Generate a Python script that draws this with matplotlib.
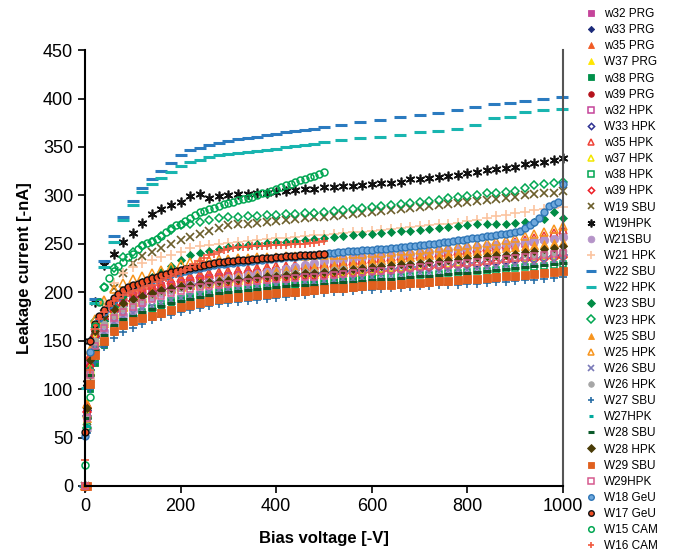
import matplotlib
matplotlib.use("Agg")
import matplotlib.pyplot as plt

plt.rcParams['font.family'] = ['Liberation Sans', 'DejaVu Sans']

# voltage grids (V)
V_FULL = [0, 5, 10] + list(range(20, 1001, 20))
V_PRG = [0, 5, 10] + list(range(20, 601, 20))
V_FINE = list(range(0, 501, 10))
V_GEU = list(range(0, 1001, 10))
V_W22_SBU = list(range(0, 501, 20)) + [535, 575, 617, 659, 700, 738, 778, 816, 855, 889, 920, 958, 998]
V_W22_HPK = [5] + list(range(20, 501, 20)) + [535, 575, 617, 659, 700, 738, 778, 816, 855, 889, 920, 958, 998]

# leakage current (-nA)
w32_prg = [0, 80, 130,
           160, 176, 186, 192, 197, 201, 204, 207, 209, 211,
           213, 215, 216, 217, 218, 219, 220, 221, 222, 222,
           223, 224, 224, 225, 225, 226, 226, 227, 227, 228]
w33_prg = [0, 78, 125,
           155, 172, 182, 188, 193, 197, 200, 203, 205, 207,
           209, 211, 212, 213, 214, 215, 216, 217, 218, 218,
           219, 220, 220, 221, 221, 222, 222, 223, 223, 224]
w35_prg = [0, 85, 135,
           165, 180, 190, 196, 200, 204, 207, 210, 212, 214,
           216, 218, 219, 220, 221, 222, 223, 224, 225, 225,
           226, 227, 227, 228, 228, 229, 229, 230, 230, 231]
w37_prg = [0, 75, 120,
           152, 170, 180, 186, 191, 195, 198, 201, 203, 205,
           207, 209, 210, 211, 212, 213, 214, 215, 216, 217,
           217, 218, 219, 219, 220, 220, 221, 221, 222, 222]
w38_prg = [0, 60, 100,
           127, 146, 160, 168, 174, 178, 182, 186, 190, 192,
           194, 196, 197, 199, 200, 201, 202, 203, 204, 205,
           206, 207, 208, 209, 210, 211, 212, 213, 214, 215]
w39_prg = [0, 80, 128,
           158, 174, 184, 190, 194, 198, 201, 204, 206, 208,
           210, 211, 212, 213, 214, 215, 216, 217, 218, 218,
           219, 220, 220, 221, 222, 222, 223, 223, 224, 225]

w32_hpk = [0, 75, 125,
           158, 175, 185, 191, 196, 200, 203, 206, 208, 210,
           212, 214, 215, 216, 217, 218, 219, 220, 221, 222,
           223, 224, 225, 225, 226, 227, 228, 229, 230, 231,
           232, 233, 234, 235, 236, 237, 238, 239, 240, 241,
           242, 244, 245, 247, 248, 250, 252, 255, 258, 262]
w33_hpk = [0, 72, 120,
           153, 170, 180, 186, 191, 195, 198, 201, 203, 205,
           207, 209, 210, 211, 212, 213, 214, 215, 216, 217,
           218, 218, 219, 219, 220, 221, 221, 222, 222, 223,
           224, 224, 225, 226, 226, 227, 228, 228, 229, 230,
           230, 231, 232, 233, 234, 235, 235, 236, 237, 238]
w35_hpk = [0, 85, 135,
           165, 181, 191, 197, 201, 205, 208, 211, 213, 215,
           217, 219, 220, 221, 222, 223, 224, 225, 226, 227,
           227, 228, 228, 229, 229, 230, 231, 232, 233, 234,
           235, 236, 237, 238, 239, 240, 241, 242, 243, 244,
           246, 247, 249, 250, 252, 254, 256, 258, 261, 264]
w37_hpk = [0, 74, 122,
           154, 171, 181, 187, 192, 196, 199, 202, 204, 206,
           208, 210, 211, 212, 213, 214, 215, 216, 217, 218,
           218, 219, 220, 220, 221, 222, 222, 223, 224, 224,
           225, 226, 226, 227, 228, 228, 229, 230, 231, 231,
           232, 233, 234, 235, 236, 236, 237, 238, 239, 240]
w38_hpk = [0, 62, 105,
           130, 149, 162, 170, 176, 180, 184, 188, 191, 193,
           195, 197, 198, 200, 201, 202, 203, 204, 205, 206,
           207, 208, 209, 210, 211, 212, 212, 213, 214, 214,
           215, 216, 216, 217, 218, 218, 219, 220, 220, 221,
           222, 222, 223, 224, 225, 226, 226, 227, 228, 229]
w39_hpk = [0, 76, 124,
           155, 172, 181, 187, 191, 195, 198, 201, 203, 205,
           207, 208, 209, 210, 211, 212, 213, 214, 215, 215,
           216, 216, 217, 217, 218, 219, 219, 220, 220, 221,
           222, 222, 223, 224, 224, 225, 226, 226, 227, 228,
           228, 229, 230, 231, 232, 233, 233, 234, 235, 236]

w19_sbu = [0, 60, 110,
           160, 185, 204, 220, 230, 237, 242, 246, 250, 254,
           257, 260, 263, 266, 269, 270, 271, 272, 273, 274,
           275, 276, 277, 278, 278, 279, 280, 281, 282, 283,
           284, 285, 286, 287, 288, 289, 290, 291, 292, 293,
           294, 295, 296, 297, 298, 300, 301, 302, 303, 305]
w19_hpk = [0, 106, 150,
           190, 228, 240, 252, 261, 272, 281, 286, 290, 293,
           299, 301, 297, 299, 300, 301, 301, 302, 303, 304,
           305, 306, 307, 307, 309, 309, 310, 310, 311, 312,
           313, 313, 314, 317, 317, 318, 319, 320, 321, 323,
           324, 326, 327, 328, 329, 332, 333, 335, 337, 339]
w21_sbu = [0, 60, 110,
           140, 160, 170, 177, 182, 189, 195, 199, 202, 205,
           207, 209, 211, 213, 215, 216, 218, 219, 221, 222,
           224, 226, 228, 230, 232, 233, 234, 235, 236, 237,
           238, 239, 239, 240, 241, 242, 243, 244, 245, 246,
           247, 248, 249, 250, 251, 252, 253, 254, 255, 257]
w21_hpk = [0, 60, 110,
           150, 190, 210, 220, 226, 230, 233, 236, 239, 242,
           246, 248, 249, 250, 251, 252, 253, 254, 255, 256,
           256, 257, 258, 259, 259, 260, 261, 262, 262, 263,
           264, 265, 266, 267, 268, 269, 270, 271, 272, 274,
           275, 277, 279, 280, 282, 283, 285, 286, 287, 288]
w22_sbu = [0, 193, 232, 258, 278, 294, 308, 317, 325, 333,
           342, 347, 349, 352, 354, 356, 358, 359, 360, 362,
           363, 365, 366, 368, 369, 371,
           373, 376, 378, 381, 383, 385, 388, 391, 394, 395, 398, 400, 402]
w22_hpk = [101, 189, 226, 252, 275, 290, 304, 312, 318, 324,
           330, 335, 337, 340, 342, 343, 344, 345, 346, 347,
           348, 350, 351, 352, 353, 355,
           357, 359, 360, 362, 365, 367, 369, 373, 380, 381, 386, 388, 389]
w23_sbu = [0, 70, 115,
           145, 170, 185, 196, 205, 211, 216, 221, 227, 233,
           239, 241, 243, 245, 247, 248, 249, 250, 251, 252,
           252, 253, 254, 255, 256, 257, 258, 259, 260, 260,
           261, 262, 263, 263, 264, 265, 266, 267, 268, 269,
           270, 270, 271, 271, 272, 273, 273, 276, 283, 277]
w23_hpk = [0, 60, 120,
           170, 205, 225, 236, 242, 248, 252, 258, 264, 269,
           271, 273, 275, 277, 278, 278, 279, 279, 280, 280,
           281, 281, 282, 282, 283, 284, 285, 286, 287, 288,
           289, 290, 291, 292, 293, 294, 295, 297, 298, 299,
           300, 302, 303, 304, 305, 308, 311, 312, 313, 314]
w25_sbu = [0, 70, 118,
           150, 168, 178, 185, 190, 194, 198, 201, 204, 206,
           208, 210, 212, 214, 215, 217, 218, 219, 220, 222,
           223, 224, 225, 226, 227, 228, 229, 230, 231, 232,
           233, 234, 235, 236, 237, 238, 239, 240, 241, 242,
           243, 244, 245, 246, 247, 248, 249, 250, 251, 252]
w25_hpk = [0, 85, 140,
           172, 192, 203, 210, 214, 217, 220, 223, 226, 229,
           231, 232, 233, 234, 234, 235, 235, 236, 236, 236,
           237, 237, 237, 238, 238, 239, 239, 240, 240, 241,
           241, 242, 243, 243, 244, 245, 246, 247, 248, 249,
           250, 251, 253, 254, 256, 258, 260, 262, 265, 268]
w26_sbu = [0, 72, 118,
           143, 159, 169, 175, 179, 183, 186, 189, 192, 194,
           196, 198, 200, 202, 203, 204, 205, 206, 207, 208,
           209, 210, 211, 211, 212, 213, 214, 214, 215, 216,
           217, 217, 218, 219, 220, 220, 221, 222, 223, 223,
           224, 225, 226, 227, 228, 229, 230, 231, 232, 233]
w26_hpk = [0, 70, 118,
           150, 167, 177, 184, 189, 193, 197, 200, 202, 204,
           206, 208, 210, 211, 213, 214, 215, 216, 217, 218,
           219, 220, 221, 221, 222, 223, 224, 224, 225, 226,
           227, 227, 228, 229, 230, 231, 231, 232, 233, 234,
           235, 236, 237, 238, 239, 240, 240, 241, 242, 243]
w27_sbu = [0, 55, 100,
           128, 143, 153, 159, 163, 167, 171, 174, 177, 180,
           182, 184, 186, 188, 189, 190, 191, 192, 193, 194,
           195, 196, 197, 198, 199, 200, 200, 201, 202, 202,
           203, 204, 204, 205, 206, 206, 207, 207, 208, 209,
           209, 210, 211, 211, 212, 213, 213, 214, 215, 216]
w27_hpk = [0, 62, 108,
           133, 148, 157, 163, 167, 171, 174, 177, 180, 183,
           185, 187, 189, 191, 192, 193, 194, 195, 196, 197,
           198, 199, 200, 201, 202, 203, 203, 204, 205, 205,
           206, 207, 207, 208, 209, 209, 210, 211, 211, 212,
           213, 213, 214, 215, 216, 216, 217, 218, 219, 220]
w28_sbu = [0, 70, 115,
           140, 156, 166, 172, 176, 180, 183, 186, 189, 191,
           193, 195, 197, 199, 200, 201, 202, 203, 204, 205,
           206, 207, 208, 208, 209, 210, 211, 211, 212, 213,
           214, 214, 215, 216, 217, 217, 218, 219, 220, 220,
           221, 222, 223, 224, 225, 226, 227, 228, 229, 230]
w28_hpk = [0, 80, 130,
           160, 175, 183, 189, 193, 196, 199, 202, 204, 206,
           208, 210, 211, 212, 213, 214, 215, 216, 217, 217,
           218, 219, 220, 220, 221, 222, 223, 224, 225, 226,
           227, 228, 229, 229, 230, 231, 232, 233, 234, 235,
           236, 237, 238, 239, 240, 242, 243, 245, 246, 248]
w29_sbu = [0, 0, 105,
           135, 150, 160, 166, 170, 173, 176, 179, 182, 185,
           187, 189, 191, 193, 194, 195, 196, 197, 198, 199,
           200, 200, 201, 202, 203, 204, 204, 205, 206, 207,
           207, 208, 209, 210, 210, 211, 212, 212, 213, 214,
           214, 215, 216, 217, 217, 218, 219, 220, 221, 222]
w29_hpk = [0, 70, 115,
           145, 163, 173, 180, 185, 189, 193, 196, 199, 201,
           203, 205, 206, 208, 209, 210, 211, 212, 213, 214,
           214, 215, 216, 216, 217, 218, 219, 220, 221, 222,
           222, 223, 224, 225, 226, 227, 228, 228, 229, 230,
           231, 232, 233, 234, 235, 236, 237, 238, 240, 241]
w18_geu = [52, 138, 165, 173, 180, 187, 192, 196, 200, 203,
           205, 207, 209, 211, 213, 214, 216, 217, 219, 220,
           221, 222, 223, 224, 225, 226, 227, 228, 229, 229,
           230, 230, 231, 231, 232, 232, 233, 233, 234, 234,
           235, 235, 236, 236, 236, 237, 237, 238, 238, 239,
           240, 241, 241, 242, 242, 243, 243, 243, 244, 244,
           244, 245, 245, 245, 246, 246, 247, 247, 248, 248,
           249, 249, 250, 250, 251, 252, 252, 253, 254, 254,
           255, 256, 256, 257, 258, 258, 259, 260, 260, 261,
           262, 263, 266, 269, 273, 277, 283, 289, 291, 293,
           312]
w17_geu = [56, 150, 167, 175, 182, 189, 194, 198, 202, 205,
           207, 209, 211, 213, 215, 216, 218, 219, 221, 222,
           223, 224, 225, 226, 227, 228, 229, 230, 231, 231,
           232, 232, 233, 233, 233, 234, 234, 235, 235, 235,
           236, 236, 237, 237, 237, 238, 238, 239, 239, 240,
           240]
w15_cam = [22, 92, 165, 190, 205, 215, 222, 227, 231, 236,
           240, 245, 249, 251, 253, 255, 258, 262, 266, 269,
           271, 274, 277, 280, 283, 284, 286, 287, 289, 291,
           292, 293, 295, 296, 297, 298, 300, 302, 303, 305,
           307, 309, 311, 312, 314, 316, 317, 319, 320, 322,
           324]
w16_cam = [27, 120, 162, 172, 180, 186, 191, 194, 197, 199,
           201, 202, 204, 206, 208, 211, 213, 215, 217, 219,
           221, 223, 226, 229, 232, 235, 238, 240, 242, 244,
           245, 246, 247, 247, 247, 248, 248, 248, 248, 249,
           249, 249, 249, 250, 250, 250, 250, 251, 251, 252,
           253]

# label, x, y, marker, colour, filled, size
series = [
    ("w32 PRG", V_PRG, w32_prg, 's', '#C5449A', True, 5),
    ("w33 PRG", V_PRG, w33_prg, 'D', '#1B2A7A', True, 4),
    ("w35 PRG", V_PRG, w35_prg, '^', '#F15A24', True, 5.5),
    ("W37 PRG", V_PRG, w37_prg, '^', '#FFE600', True, 5.5),
    ("w38 PRG", V_PRG, w38_prg, 's', '#00904A', True, 5),
    ("w39 PRG", V_PRG, w39_prg, 'o', '#B5121B', True, 5),
    ("w32 HPK", V_FULL, w32_hpk, 's', '#C5449A', False, 5),
    ("W33 HPK", V_FULL, w33_hpk, 'D', '#2E3192', False, 4),
    ("w35 HPK", V_FULL, w35_hpk, '^', '#EF4136', False, 5.5),
    ("w37 HPK", V_FULL, w37_hpk, '^', '#F2E600', False, 5.5),
    ("w38 HPK", V_FULL, w38_hpk, 's', '#00A651', False, 5),
    ("w39 HPK", V_FULL, w39_hpk, 'D', '#ED1C24', False, 4),
    ("W19 SBU", V_FULL, w19_sbu, 'x', '#6B5E2A', True, 6),
    ("W19HPK", V_FULL, w19_hpk, (6, 2, 0), '#111111', True, 7),
    ("W21SBU", V_FULL, w21_sbu, 'o', '#B594C8', True, 6),
    ("W21 HPK", V_FULL, w21_hpk, '+', '#FBC4A0', True, 7),
    ("W22 SBU", V_W22_SBU, w22_sbu, '_', '#2B7BC0', True, 9),
    ("W22 HPK", V_W22_HPK, w22_hpk, '_', '#19B5B0', True, 9),
    ("W23 SBU", V_FULL, w23_sbu, 'D', '#008C45', True, 4.5),
    ("W23 HPK", V_FULL, w23_hpk, 'D', '#00A651', False, 4.5),
    ("W25 SBU", V_FULL, w25_sbu, '^', '#F7941D', True, 5.5),
    ("W25 HPK", V_FULL, w25_hpk, '^', '#F7941D', False, 5.5),
    ("W26 SBU", V_FULL, w26_sbu, 'x', '#7A7AB8', True, 5),
    ("W26 HPK", V_FULL, w26_hpk, 'o', '#A6A6A6', True, 5),
    ("W27 SBU", V_FULL, w27_sbu, '+', '#2A6EA6', True, 6),
    ("W27HPK", V_FULL, w27_hpk, '_', '#00A99D', True, 4),
    ("W28 SBU", V_FULL, w28_sbu, '_', '#0B5A2A', True, 6),
    ("W28 HPK", V_FULL, w28_hpk, 'D', '#4A3C08', True, 4.5),
    ("W29 SBU", V_FULL, w29_sbu, 's', '#E0601E', True, 5.5),
    ("W29HPK", V_FULL, w29_hpk, 's', '#D65A8E', False, 5),
    ("W18 GeU", V_GEU, w18_geu, 'o', '#6FA8DC', True, 5),
    ("W17 GeU", V_FINE, w17_geu, 'o', '#F04E23', True, 5),
    ("W15 CAM", V_FINE, w15_cam, 'o', '#00A651', False, 5),
    ("W16 CAM", V_FINE, w16_cam, '+', '#F15A40', True, 6),
]

fig = plt.figure(figsize=(6.85, 5.51), dpi=100)
ax = fig.add_axes([0.124, 0.118, 0.698, 0.791])

handles = []
for label, x, y, m, c, filled, ms in series:
    kw = dict(marker=m, markersize=ms, linestyle='none', color=c)
    if m in ('x', '+', '_') or isinstance(m, tuple):
        kw['markeredgewidth'] = 2.2 if m == '_' else 1.2
    elif filled:
        kw['markerfacecolor'] = c
        kw['markeredgecolor'] = c
        kw['markeredgewidth'] = 0.6
    else:
        kw['markerfacecolor'] = 'none'
        kw['markeredgecolor'] = c
        kw['markeredgewidth'] = 1.1
    if label == "W18 GeU":
        kw['markeredgecolor'] = '#2E75B6'
        kw['markeredgewidth'] = 1.0
    if label == "W17 GeU":
        kw['markeredgecolor'] = '#111111'
        kw['markeredgewidth'] = 1.0
    n = min(len(x), len(y))
    line, = ax.plot(x[:n], y[:n], label=label, clip_on=False, **kw)
    handles.append(line)

ax.set_xlim(0, 1000)
ax.set_ylim(0, 450)
ax.set_xticks(range(0, 1001, 200))
ax.set_yticks(range(0, 451, 50))
ax.tick_params(labelsize=13, direction='out', length=5, width=1.2)
ax.spines['top'].set_visible(False)
ax.spines['right'].set_color('#555555')
ax.spines['right'].set_linewidth(1.5)
ax.spines['left'].set_linewidth(1.5)
ax.spines['bottom'].set_linewidth(1.5)
ax.set_xlabel('Bias voltage [-V]', fontsize=12, fontweight='bold', labelpad=12)
ax.set_ylabel('Leakage current [-nA]', fontsize=12, fontweight='bold', labelpad=8)

fig.legend(handles=handles, loc='upper left', bbox_to_anchor=(0.847, 0.994),
           frameon=False, fontsize=8.5, labelspacing=0.35, handlelength=1.0,
           handletextpad=0.6, borderaxespad=0, markerscale=0.8)

fig.savefig('out.png', dpi=100)
